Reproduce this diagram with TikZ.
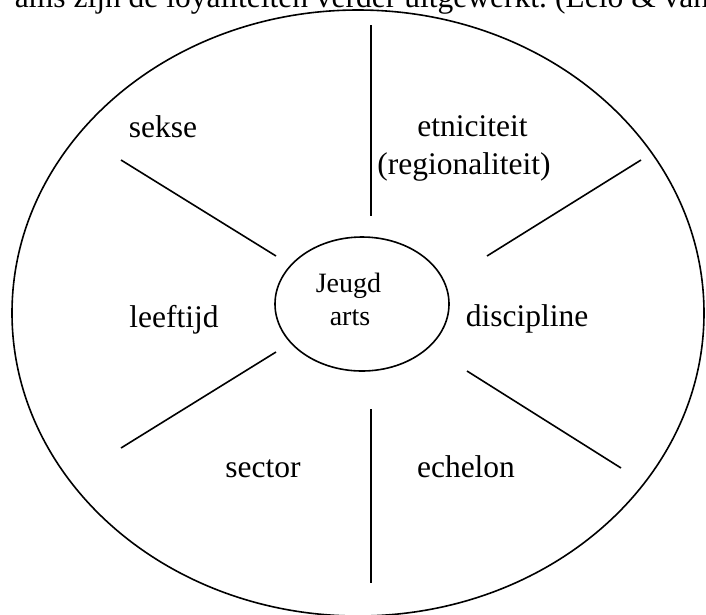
\documentclass[tikz,border=0pt]{standalone}
\usepackage{fontspec}
\setmainfont{Liberation Serif}
\usepackage{tikz}
\usetikzlibrary{shapes.geometric}

\begin{document}
\begin{tikzpicture}[x=1pt,y=-1pt]
% Canvas 706 x 614, coordinates in pixels, y pointing down
\useasboundingbox (0,0) rectangle (706,614);
\tikzset{
  label/.style={anchor=base,inner sep=0pt,font=\fontsize{31.5}{36}\selectfont},
  hubtext/.style={anchor=base,inner sep=0pt,font=\fontsize{28}{33}\selectfont},
  spoke/.style={line width=1.6pt,draw=black}
}

% Clipped caption line above the figure
\node[label,anchor=base east] (capa) at (547,7) {ams zijn de loyaliteiten verder uitgewerkt.};
\node[label,anchor=base west] (capb) at ([xshift=8]capa.base east) {(Lelo \& van};

% Outer ellipse
\draw[line width=1.6pt] (358,313) ellipse [x radius=346, y radius=303];

% Inner ellipse with the centre text
\node[draw,ellipse,line width=1.6pt,minimum width=174,minimum height=134,inner sep=0pt] (hub) at (362,304) {};
\node[hubtext] (jeugd) at (348.5,292) {Jeugd};
\node[hubtext] (arts) at (350,325) {arts};

% Spokes between the loyalty fields
\foreach \xa/\ya/\xb/\yb in {371/25/371/216, 371/409/371/583, 121/160/276/256, 487/256/641/160, 276/352/121/448, 467/371/621/468} {
  \draw[spoke] (\xa,\ya) -- (\xb,\yb);
}

% Loyalty labels
\node[label] (sekse) at (163,137) {sekse};
\node[label] (etniciteit) at (472.5,136) {etniciteit};
\node[label] (regio) at (464,174) {(regionaliteit)};
\node[label] (leeftijd) at (174,327) {leeftijd};
\node[label] (discipline) at (527,326) {discipline};
\node[label] (sector) at (263,477) {sector};
\node[label] (echelon) at (466,477) {echelon};
\end{tikzpicture}
\end{document}
